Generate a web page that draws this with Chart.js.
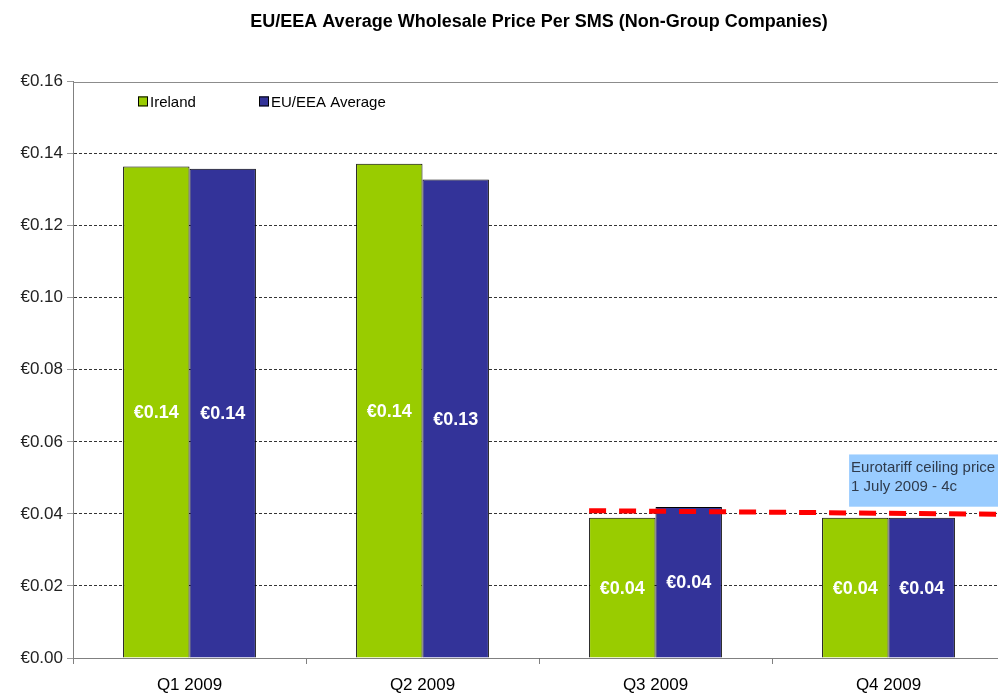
<!DOCTYPE html>
<html>
<head>
<meta charset="utf-8">
<script src="https://cdn.jsdelivr.net/npm/chart.js@4.4.1/dist/chart.umd.min.js"></script>
<style>
  html, body { margin: 0; padding: 0; background: #fff; overflow: hidden; }
  #wrap { position: relative; width: 1010px; height: 695px; }
</style>
</head>
<body>
<div id="wrap"><canvas id="sms-chart"></canvas></div>
<script>
const labels = ["Q1 2009", "Q2 2009", "Q3 2009", "Q4 2009"];
const ireland = [0.1364, 0.1372, 0.0389, 0.0389];
const euAverage = [0.1358, 0.1328, 0.0419, 0.0389];
const yTicks = [0, 0.02, 0.04, 0.06, 0.08, 0.1, 0.12, 0.14, 0.16];
// ceiling line: starts at Q3, value at start and at right edge
const ceilingFrom = "Q3 2009";
const ceilingValues = [0.0409, 0.0399];
const noteLines = ["Eurotariff ceiling price", "1 July 2009 - 4c"];

const FONT = "'Liberation Sans', Arial, sans-serif";

const overlayPlugin = {
  id: "overlay",
  afterDatasetsDraw(chart) {
    const { ctx, chartArea, scales } = chart;
    const y = scales.y;

    // solid top border
    ctx.save();
    ctx.strokeStyle = "#8c8c8c";
    ctx.lineWidth = 1;
    const top = Math.round(y.getPixelForValue(0.16)) + 0.5;
    ctx.beginPath();
    ctx.moveTo(chartArea.left, top);
    ctx.lineTo(chartArea.right, top);
    ctx.stroke();

    // value labels
    ctx.fillStyle = "#fff";
    ctx.font = "bold 18px " + FONT;
    ctx.textAlign = "center";
    ctx.textBaseline = "middle";
    chart.data.datasets.forEach((ds, i) => {
      chart.getDatasetMeta(i).data.forEach((bar, j) => {
        const mid = (bar.y + bar.base) / 2;
        ctx.fillText("€" + ds.data[j].toFixed(2), bar.x, mid + 1);
      });
    });

    // ceiling line
    const idx = labels.indexOf(ceilingFrom);
    const bar0 = chart.getDatasetMeta(0).data[idx];
    const x0 = bar0.x - bar0.width / 2;
    ctx.strokeStyle = "#ff0000";
    ctx.lineWidth = 5;
    ctx.setLineDash([17, 13]);
    ctx.beginPath();
    ctx.moveTo(x0, y.getPixelForValue(ceilingValues[0]));
    ctx.lineTo(chartArea.right, y.getPixelForValue(ceilingValues[1]));
    ctx.stroke();
    ctx.setLineDash([]);

    // note box
    const q4 = chart.getDatasetMeta(0).data[3];
    const bx = q4.x - q4.width / 2 + 27;
    const by = y.getPixelForValue(0.0565);
    const bh = y.getPixelForValue(0.042) - by;
    ctx.fillStyle = "#99ccff";
    ctx.fillRect(bx, by, chartArea.right - bx, bh);
    ctx.fillStyle = "#2f3b4c";
    ctx.font = "15px " + FONT;
    ctx.textAlign = "left";
    ctx.textBaseline = "middle";
    ctx.fillText(noteLines[0], bx + 2, by + 13);
    ctx.fillText(noteLines[1], bx + 2, by + 32);

    // legend inside plot
    ctx.font = "15px " + FONT;
    const ly = y.getPixelForValue(0.1545);
    const items = [
      { text: chart.data.datasets[0].label, color: "#99cc00", x: chartArea.left + 65 },
      { text: chart.data.datasets[1].label, color: "#333399", x: chartArea.left + 186 },
    ];
    items.forEach((it) => {
      ctx.fillStyle = it.color;
      ctx.fillRect(it.x, ly - 5, 10, 10);
      ctx.strokeStyle = "#000";
      ctx.lineWidth = 1;
      ctx.strokeRect(it.x + 0.5, ly - 4.5, 9, 9);
      ctx.fillStyle = "#000";
      ctx.fillText(it.text, it.x + 12, ly + 1);
    });
    ctx.restore();
  },
};

const ctx = document.getElementById("sms-chart").getContext("2d");
new Chart(ctx, {
  type: "bar",
  data: {
    labels: labels,
    datasets: [
      {
        label: "Ireland",
        data: ireland,
        backgroundColor: "#99cc00",
        borderColor: "#000",
        borderWidth: 1,
      },
      {
        label: "EU/EEA Average",
        data: euAverage,
        backgroundColor: "#333399",
        borderColor: "#000",
        borderWidth: 1,
      },
    ],
  },
  options: {
    responsive: true,
    maintainAspectRatio: false,
    animation: false,
    layout: { padding: { left: 0, right: 5, top: 0, bottom: 0 } },
    datasets: { bar: { categoryPercentage: 0.57, barPercentage: 1 } },
    plugins: {
      legend: { display: false },
      tooltip: { enabled: false },
      title: {
        display: true,
        fullSize: false,
        text: "EU/EEA Average Wholesale Price Per SMS (Non-Group Companies)",
        color: "#000",
        font: { family: FONT, size: 18, weight: "bold" },
        padding: { top: 11, bottom: 49 },
      },
    },
    scales: {
      x: {
        afterFit: (scale) => { scale.height = 37; },
        grid: {
          offset: true,
          drawOnChartArea: false,
          tickLength: 6,
          tickColor: "#808080",
        },
        border: { color: "#808080", width: 1 },
        ticks: {
          color: "#000",
          padding: 11,
          font: { family: FONT, size: 17 },
        },
      },
      y: {
        min: 0,
        max: 0.16,
        afterFit: (scale) => { scale.width = 73; },
        afterBuildTicks: (scale) => {
          scale.ticks = yTicks.map((v) => ({ value: v }));
        },
        grid: {
          color: (c) => (c.tick && c.tick.value === 0.16 ? "rgba(0,0,0,0)" : "#000"),
          lineWidth: 0.8,
          tickLength: 6,
          tickColor: "#808080",
          tickBorderDash: [],
        },
        border: { color: "#808080", width: 1, dash: [3, 2] },
        ticks: {
          color: "#222",
          padding: 4,
          font: { family: FONT, size: 17 },
          callback: (v) => "€" + v.toFixed(2),
        },
      },
    },
  },
  plugins: [overlayPlugin],
});
</script>
</body>
</html>
